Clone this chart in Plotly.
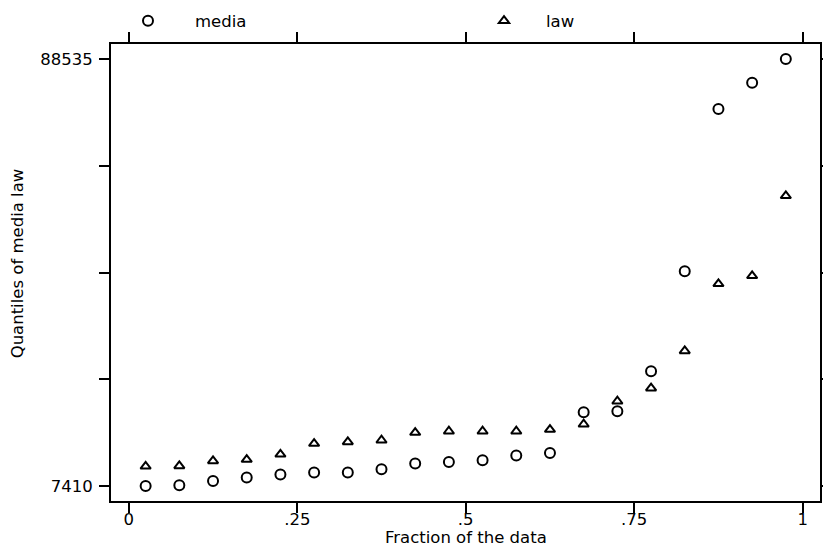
import plotly.graph_objects as go

# fraction of the data (plotting positions)
fraction = [(i - 0.5) / 20 for i in range(1, 21)]

media = [7410, 7543, 8361, 9007, 9577, 9990, 9990, 10585, 11669, 11973,
         12296, 13190, 13684, 21422, 21612, 29217, 48229, 79028, 84028, 88535]
law = [11155, 11212, 12163, 12429, 13437, 15471, 15775, 16098, 17562, 17810,
       17810, 17810, 18133, 19140, 23513, 25985, 33076, 45814, 47335, 62545]

ymin, ymax = 7410, 88535
ytick_vals = [ymin + k * (ymax - ymin) / 4 for k in range(5)]
ytick_text = ["7410", "", "", "", "88535"]
xtick_vals = [0, 0.25, 0.5, 0.75, 1]
xtick_text = ["0", ".25", ".5", ".75", "1"]

FONT = "DejaVu Sans"
FS = 16.5

fig = go.Figure()
fig.add_trace(go.Scatter(
    x=fraction, y=media, mode="markers", name="media", legend="legend",
    marker=dict(symbol="circle-open", size=10, color="black",
                line=dict(width=2, color="black")),
))
fig.add_trace(go.Scatter(
    x=fraction, y=law, mode="markers", name="law", legend="legend2",
    marker=dict(symbol="triangle-up-open", size=9, color="black",
                line=dict(width=2, color="black")),
))

pad_y = (ymax - ymin) * 15 / 426.7
axis_common = dict(
    showgrid=False, zeroline=False, showline=True, linecolor="black",
    linewidth=2, mirror="allticks", ticks="outside", ticklen=10,
    tickwidth=2, tickcolor="black", automargin=False,
    tickfont=dict(family=FONT, size=FS, color="black"),
)
fig.update_xaxes(range=[-0.0264, 1.0257], tickvals=xtick_vals,
                 ticktext=xtick_text, ticklabelstandoff=-8, **axis_common)
fig.update_yaxes(range=[ymin - pad_y, ymax + pad_y], tickvals=ytick_vals,
                 ticktext=ytick_text, ticklabelstandoff=3, **axis_common)

fig.add_annotation(text="Fraction of the data", xref="paper", yref="paper",
                   x=0.5, y=-0.079, xanchor="center", yanchor="middle",
                   showarrow=False, font=dict(family=FONT, size=FS, color="black"))
fig.add_annotation(text="Quantiles of media law", xref="paper", yref="paper",
                   x=(17 - 111) / 709, y=0.52, xanchor="center", yanchor="middle",
                   textangle=-90, showarrow=False,
                   font=dict(family=FONT, size=FS, color="black"))

leg_common = dict(yanchor="middle", y=(501 - 21) / 457, xanchor="left",
                  font=dict(family=FONT, size=FS, color="black"),
                  bgcolor="rgba(0,0,0,0)")
fig.update_layout(
    width=823, height=547,
    margin=dict(l=111, r=3, t=44, b=46, autoexpand=False),
    paper_bgcolor="white", plot_bgcolor="white",
    showlegend=True,
    legend=dict(x=(101 - 111) / 709, itemwidth=84, **leg_common),
    legend2=dict(x=(462 - 111) / 709, itemwidth=74, **leg_common),
)

fig.write_html(
    "out.html",
    config={"displayModeBar": False},
    post_script="document.body.style.margin='0';"
                "document.body.style.overflow='hidden';",
)
